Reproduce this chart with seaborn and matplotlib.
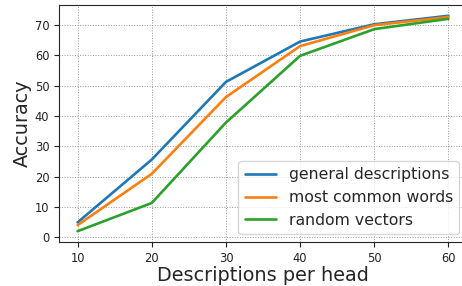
import matplotlib
matplotlib.use("Agg")
import matplotlib.pyplot as plt
import seaborn as sns
import pandas as pd

descriptions = [10, 20, 30, 40, 50, 60]
general = [4.9, 25.6, 51.2, 64.5, 70.2, 73.0]
common = [4.0, 20.9, 46.2, 63.0, 69.9, 72.6]
random_vec = [2.0, 11.3, 37.8, 59.8, 68.6, 72.0]
series_names = ["general descriptions", "most common words", "random vectors"]

rows = []
for name, vals in zip(series_names, [general, common, random_vec]):
    for x, y in zip(descriptions, vals):
        rows.append({"desc": x, "acc": y, "method": name})
df = pd.DataFrame(rows)

sns.set_style("ticks")
plt.rcParams["font.family"] = ["DejaVu Sans"]

fig = plt.figure(figsize=(4.62, 2.86), dpi=100)
ax = fig.add_axes([59 / 462, 44 / 286, (467 - 59) / 462, (242 - 5) / 286])

sns.lineplot(data=df, x="desc", y="acc", hue="method", palette=sns.color_palette("tab10", 3),
             linewidth=1.9, ax=ax)

ax.grid(True, linestyle=":", color="#999999", linewidth=0.7)
ax.set_xticks(descriptions)
ax.set_yticks([0, 10, 20, 30, 40, 50, 60, 70])
ax.tick_params(labelsize=8.3, colors="#222222")
ax.set_xlabel("Descriptions per head", fontsize=13.9, labelpad=1)
ax.set_ylabel("Accuracy", fontsize=13.9, labelpad=2)
ax.legend(title=None, loc="lower right", fontsize=11.3)

fig.savefig("out.png", dpi=100)
